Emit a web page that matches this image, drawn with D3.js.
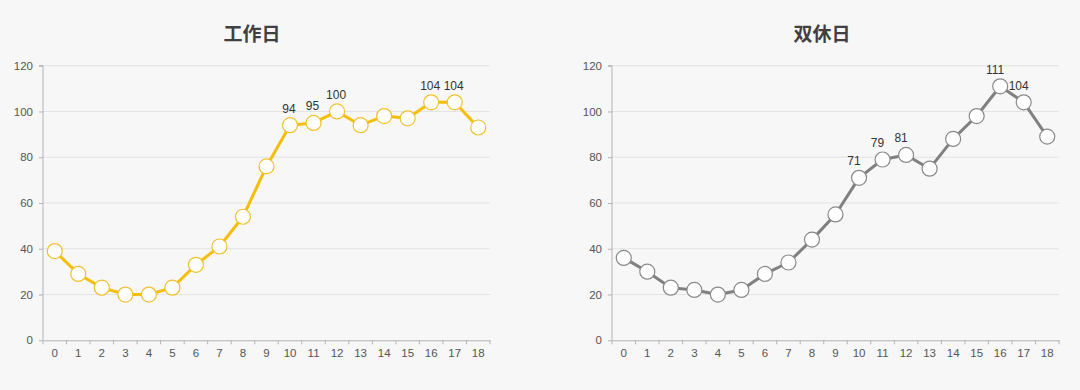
<!DOCTYPE html>
<html>
<head>
<meta charset="utf-8">
<script src="https://cdn.jsdelivr.net/npm/d3@7"></script>
<style>
html,body{margin:0;padding:0;background:#f7f7f7;}
svg{display:block;}
</style>
</head>
<body>
<svg id="chart" width="1080" height="390"></svg>
<script>
const hours = ["0","1","2","3","4","5","6","7","8","9","10","11","12","13","14","15","16","17","18"];
const yTicks = [0, 20, 40, 60, 80, 100, 120];
const workdayTitle = "工作日";
const weekendTitle = "双休日";
const workdayValues = [39, 29, 23, 20, 20, 23, 33, 41, 54, 76, 94, 95, 100, 94, 98, 97, 104, 104, 93];
const weekendValues = [36, 30, 23, 22, 20, 22, 29, 34, 44, 55, 71, 79, 81, 75, 88, 98, 111, 104, 89];
const workdayLabelled = ["10", "11", "12", "16", "17"];
const weekendLabelled = ["10", "11", "12", "16", "17"];

const svg = d3.select("#chart");
svg.append("rect").attr("width", 1080).attr("height", 390).attr("fill", "#f7f7f7");

function drawPanel(cfg) {
  const g = svg.append("g");
  const x = d3.scaleBand().domain(hours).range([cfg.left, cfg.right]);
  const y = d3.scaleLinear().domain([0, 120]).range([340.3, 65.7]);

  // title
  g.append("text")
    .attr("x", cfg.titleX).attr("y", 41)
    .attr("text-anchor", "middle")
    .attr("font-family", "'Noto Sans CJK SC', sans-serif")
    .attr("font-weight", "bold")
    .attr("font-size", 19)
    .attr("fill", "#404040")
    .text(cfg.title);

  // grid lines
  g.append("g").selectAll("line").data(yTicks.filter(d => d > 0)).join("line")
    .attr("x1", cfg.left).attr("x2", cfg.right)
    .attr("y1", d => y(d)).attr("y2", d => y(d))
    .attr("stroke", "#e3e3e3").attr("stroke-width", 1);

  // y axis
  const yAxis = g.append("g")
    .attr("transform", `translate(${cfg.left},0)`)
    .call(d3.axisLeft(y).tickValues(yTicks).tickSize(4).tickPadding(6));
  yAxis.select(".domain").attr("stroke", "#b3b3b3").attr("d", `M-4,${y(120)}H0V${y(0)}`);
  yAxis.selectAll(".tick line").attr("stroke", "#b3b3b3");
  yAxis.selectAll(".tick text")
    .attr("font-family", "'Liberation Sans', Arial, sans-serif")
    .attr("font-size", 11.5).attr("fill", "#555");

  // x axis
  const xAxis = g.append("g")
    .attr("transform", `translate(0,${y(0)})`)
    .call(d3.axisBottom(x).tickSize(0).tickPadding(9));
  xAxis.select(".domain").attr("stroke", "#b3b3b3");
  xAxis.selectAll(".tick text")
    .attr("font-family", "'Liberation Sans', Arial, sans-serif")
    .attr("font-size", 11.5).attr("fill", "#555");
  // tick marks at band edges
  g.append("g").selectAll("line").data(hours.concat(["end"])).join("line")
    .attr("x1", (d, i) => cfg.left + i * x.step())
    .attr("x2", (d, i) => cfg.left + i * x.step())
    .attr("y1", y(0)).attr("y2", y(0) + 4)
    .attr("stroke", "#b3b3b3");

  const cx = d => x(d) + x.bandwidth() / 2;
  const pts = hours.map((h, i) => ({h, v: cfg.values[i]}));

  // line
  g.append("path")
    .datum(pts)
    .attr("fill", "none")
    .attr("stroke", cfg.color)
    .attr("stroke-width", 3)
    .attr("stroke-linejoin", "round")
    .attr("d", d3.line().x(d => cx(d.h)).y(d => y(d.v)));

  // markers
  g.append("g").selectAll("circle").data(pts).join("circle")
    .attr("cx", d => cx(d.h)).attr("cy", d => y(d.v))
    .attr("r", 7.5)
    .attr("fill", "#ffffff")
    .attr("stroke", cfg.markerStroke)
    .attr("stroke-width", 1.2);

  // data labels
  g.append("g").selectAll("text").data(pts.filter(d => cfg.labelled.includes(d.h))).join("text")
    .attr("x", d => cx(d.h) + cfg.labelDx)
    .attr("y", d => y(d.v) - 12.5)
    .attr("text-anchor", "middle")
    .attr("font-family", "'Liberation Sans', Arial, sans-serif")
    .attr("font-size", 12)
    .attr("fill", "#333")
    .text(d => d.v);
}

drawPanel({left: 43, right: 490, titleX: 252, title: workdayTitle, values: workdayValues,
  color: "#F5BE0A", markerStroke: "#F2C12E", labelled: workdayLabelled, labelDx: -1});
drawPanel({left: 612, right: 1059, titleX: 822, title: weekendTitle, values: weekendValues,
  color: "#808080", markerStroke: "#8a8a8a", labelled: weekendLabelled, labelDx: -5});
</script>
</body>
</html>
